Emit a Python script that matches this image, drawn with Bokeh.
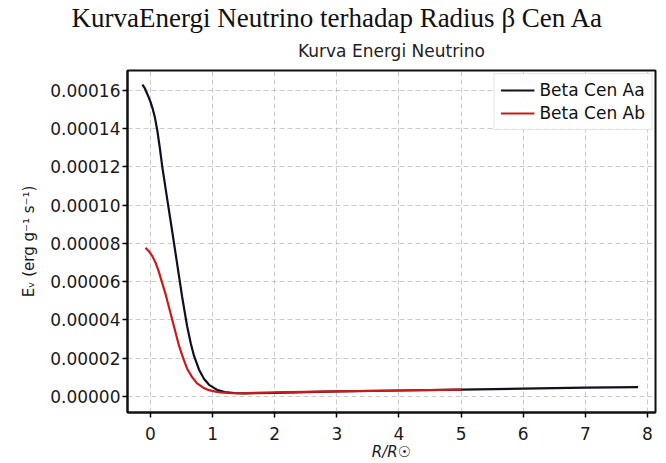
from bokeh.plotting import figure
from bokeh.models import Range1d, FixedTicker, Title, Legend, LegendItem
from bokeh.embed import file_html
from bokeh.resources import INLINE

# ---- data ----
r_aa = [-0.13, -0.09, -0.05, 0.0, 0.03, 0.07, 0.11, 0.15, 0.19, 0.27, 0.35, 0.43, 0.51,
        0.59, 0.65, 0.70, 0.78, 0.86, 0.95, 1.08, 1.20, 1.35, 1.5, 2.0, 3.0, 4.0, 5.0,
        6.0, 7.0, 7.85]
e_aa = [0.000163, 0.000161, 0.000158, 0.000154, 0.000151, 0.000146, 0.000139, 0.000130,
        0.000120, 0.000103, 0.0000862, 0.0000691, 0.0000519, 0.0000366, 0.0000275,
        0.0000212, 0.0000140, 0.0000092, 0.0000058, 0.0000032, 0.0000022, 0.0000017,
        0.0000015, 0.0000018, 0.0000025, 0.0000030, 0.0000035, 0.0000040, 0.0000045,
        0.0000048]

r_ab = [-0.08, -0.03, 0.03, 0.08, 0.13, 0.24, 0.35, 0.46, 0.53, 0.59, 0.67, 0.75,
        0.85, 0.94, 1.05, 1.13, 1.25, 1.4, 2.0, 3.0, 4.0, 5.0]
e_ab = [0.0000776, 0.0000760, 0.0000733, 0.0000700, 0.0000656, 0.0000537, 0.0000400,
        0.0000263, 0.0000195, 0.0000144, 0.0000100, 0.0000067, 0.0000045, 0.0000032,
        0.0000024, 0.0000020, 0.0000017, 0.0000015, 0.0000020, 0.0000025, 0.0000030,
        0.0000035]

x_ticks = [0, 1, 2, 3, 4, 5, 6, 7, 8]
y_ticks = [0.0, 0.00002, 0.00004, 0.00006, 0.00008, 0.00010, 0.00012, 0.00014, 0.00016]
y_tick_labels = ["0.00000", "0.00002", "0.00004", "0.00006", "0.00008",
                 "0.00010", "0.00012", "0.00014", "0.00016"]

series_names = ["Beta Cen Aa", "Beta Cen Ab"]
main_title = "KurvaEnergi Neutrino terhadap Radius \u03b2 Cen Aa"
sub_title = "Kurva Energi Neutrino"
x_label = "R/R\u2609"
y_label = "E\u1d65 (erg g\u207b\u00b9 s\u207b\u00b9)"

SANS = "DejaVu Sans"

p = figure(width=666, height=463, output_backend="svg", toolbar_location=None,
           x_range=Range1d(-0.37, 8.13), y_range=Range1d(-0.0000085, 0.0001704),
           min_border_left=127, min_border_right=11, min_border_top=70,
           min_border_bottom=48, title=None)

p.add_layout(Title(text=sub_title, align="center", text_font=SANS,
                   text_font_size="17px", text_font_style="normal",
                   standoff=20, text_color="#222222"), "above")
p.add_layout(Title(text=main_title, align="left", offset=-56, standoff=-8,
                   text_font="Liberation Serif", text_font_size="27px",
                   text_font_style="normal", text_color="#111111"), "above")

p.background_fill_color = "white"
p.border_fill_color = "white"
p.outline_line_color = "#111111"
p.outline_line_width = 2

# axes
p.xaxis.ticker = FixedTicker(ticks=x_ticks)
p.yaxis.ticker = FixedTicker(ticks=y_ticks)
p.yaxis.major_label_overrides = {t: s for t, s in zip(y_ticks, y_tick_labels)}
for ax in (p.xaxis, p.yaxis):
    ax.major_label_text_font = SANS
    ax.major_label_text_font_size = "17px"
    ax.major_label_text_color = "#1a1a1a"
    ax.major_tick_in = 0
    ax.major_tick_out = 5
    ax.major_tick_line_width = 1.5
    ax.minor_tick_line_color = None
    ax.axis_line_width = 2
    ax.axis_line_color = "#111111"
    ax.axis_label_text_font = SANS
    ax.axis_label_text_font_size = "15px"
    ax.axis_label_text_color = "#1a1a1a"
p.xaxis.axis_label = x_label
p.xaxis.axis_label_text_font_style = "italic"
p.xaxis.axis_label_standoff = 0
p.xaxis.major_label_standoff = 9
p.yaxis.axis_label = y_label
p.yaxis.axis_label_text_font_style = "normal"
p.yaxis.axis_label_standoff = 9
p.yaxis.major_label_standoff = 2

# grid
p.grid.grid_line_color = "#9a9a9a"
p.grid.grid_line_alpha = 0.5
p.grid.grid_line_dash = "5 3"
p.grid.grid_line_width = 1

# lines
l_aa = p.line(r_aa, e_aa, line_color="#101020", line_width=2.2)
l_ab = p.line(r_ab, e_ab, line_color="#cc1a1a", line_width=2.2)

legend = Legend(items=[LegendItem(label=series_names[0], renderers=[l_aa]),
                       LegendItem(label=series_names[1], renderers=[l_ab])],
                location="top_right")
legend.label_text_font = SANS
legend.label_text_font_size = "17px"
legend.label_text_color = "#111111"
legend.glyph_width = 34
legend.glyph_height = 18
legend.spacing = 3
legend.padding = 6
legend.margin = 3
legend.border_line_color = "#cccccc"
legend.border_line_width = 1
legend.background_fill_alpha = 0.9
p.add_layout(legend)

open("out.html", "w").write(file_html(p, INLINE))
